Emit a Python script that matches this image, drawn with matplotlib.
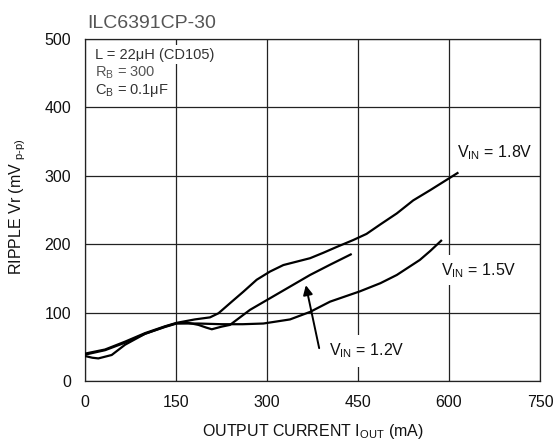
import matplotlib
matplotlib.use("Agg")
import matplotlib.pyplot as plt

plt.rcParams['font.family'] = ['Liberation Sans', 'DejaVu Sans']
plt.rcParams['mathtext.fontset'] = 'custom'
plt.rcParams['mathtext.rm'] = 'Liberation Sans'

# ---- data ----
iout_18 = [0, 33, 66, 99, 132, 151, 181, 206, 220, 242, 261, 283, 305, 327, 349,
           371, 393, 415, 442, 464, 487, 514, 541, 569, 596, 614]
rip_18 = [40, 46, 57.5, 70, 80, 85, 90, 93, 99, 116, 130.5, 148, 160, 169.5, 174.5,
          179.5, 187.5, 196, 206, 215, 229, 245, 264, 279, 294, 304]

iout_15 = [0, 33, 66, 99, 132, 151, 187, 225, 260, 294, 338, 371, 404, 453, 487,
           514, 552, 569, 587]
rip_15 = [38.5, 45, 56, 69, 79, 84, 84, 83, 83, 84, 90, 101, 116, 131, 143,
          155, 177, 190, 205]

iout_12 = [0, 12, 22, 44, 66, 99, 132, 151, 170, 187, 200, 209, 225, 239, 272,
           305, 338, 371, 404, 438]
rip_12 = [36.5, 34, 33, 38, 53, 69, 79.5, 84.5, 85, 82, 78, 75.6, 79.4, 82, 104,
          121, 138, 155, 170, 185]

x_ticks = [0, 150, 300, 450, 600, 750]
y_ticks = [0, 100, 200, 300, 400, 500]

title = "ILC6391CP-30"
cond_lines = ["L = 22\u03bcH (CD105)", "R$_{\\mathregular{B}}$ = 300", "C$_{\\mathregular{B}}$ = 0.1\u03bcF"]
lab_18 = "V$_{\\mathregular{IN}}$ = 1.8V"
lab_15 = "V$_{\\mathregular{IN}}$ = 1.5V"
lab_12 = "V$_{\\mathregular{IN}}$ = 1.2V"

fig = plt.figure(figsize=(5.56, 4.41), dpi=100)
ax = fig.add_axes([0.1529, 0.1361, 0.8183, 0.7755])

ax.set_xlim(0, 750)
ax.set_ylim(0, 500)
ax.set_xticks(x_ticks)
ax.set_yticks(y_ticks)
ax.tick_params(length=0, labelsize=11.5, colors='#111')
ax.tick_params(axis='x', pad=10)
ax.tick_params(axis='y', pad=10)
ax.grid(True, color='#222', lw=0.9)
ax.set_axisbelow(True)
for s in ax.spines.values():
    s.set_color('#222')
    s.set_linewidth(0.9)

lw = 1.6
ax.plot(iout_18, rip_18, color='black', lw=lw, zorder=3)
ax.plot(iout_15, rip_15, color='black', lw=lw, zorder=3)
ax.plot(iout_12, rip_12, color='black', lw=lw, zorder=3)

ax.set_xlabel("OUTPUT CURRENT I$_{\\mathregular{OUT}}$ (mA)", fontsize=11.5, va='center', color='#111')
ax.xaxis.set_label_coords(0.5, -0.148)
ax.set_ylabel("RIPPLE Vr (mV $_{\\mathregular{p\u2010p)}}$", fontsize=11.5, va='center', color='#111')
ax.yaxis.set_label_coords(-0.147, 0.51)

ax.text(0.006, 1.045, title, transform=ax.transAxes, fontsize=14, color='#555',
        ha='left', va='center')

wb = dict(facecolor='white', edgecolor='none', pad=2)
ax.text(16, 477, cond_lines[0], fontsize=10.5, color='#333', ha='left', va='center', zorder=4, bbox=wb)
ax.text(16, 451, cond_lines[1], fontsize=10.5, color='#555', ha='left', va='center', zorder=4, bbox=wb)
ax.text(16, 425, cond_lines[2], fontsize=10.5, color='#333', ha='left', va='center', zorder=4, bbox=wb)

ax.text(613, 334, lab_18, fontsize=11.5, ha='left', va='center', color='#111', zorder=4, bbox=wb)
ax.text(587, 162, lab_15, fontsize=11.5, ha='left', va='center', color='#111', zorder=4,
        bbox=dict(facecolor='white', edgecolor='none', pad=4))
ax.text(402, 44, lab_12, fontsize=11.5, ha='left', va='center', color='#111', zorder=4,
        bbox=dict(facecolor='white', edgecolor='none', pad=5))

ax.annotate("", xy=(364, 140), xytext=(386, 48),
            arrowprops=dict(arrowstyle='-|>', color='black', lw=1.4,
                            mutation_scale=14, shrinkA=0, shrinkB=0), zorder=5)

fig.savefig("out.png", dpi=100)
